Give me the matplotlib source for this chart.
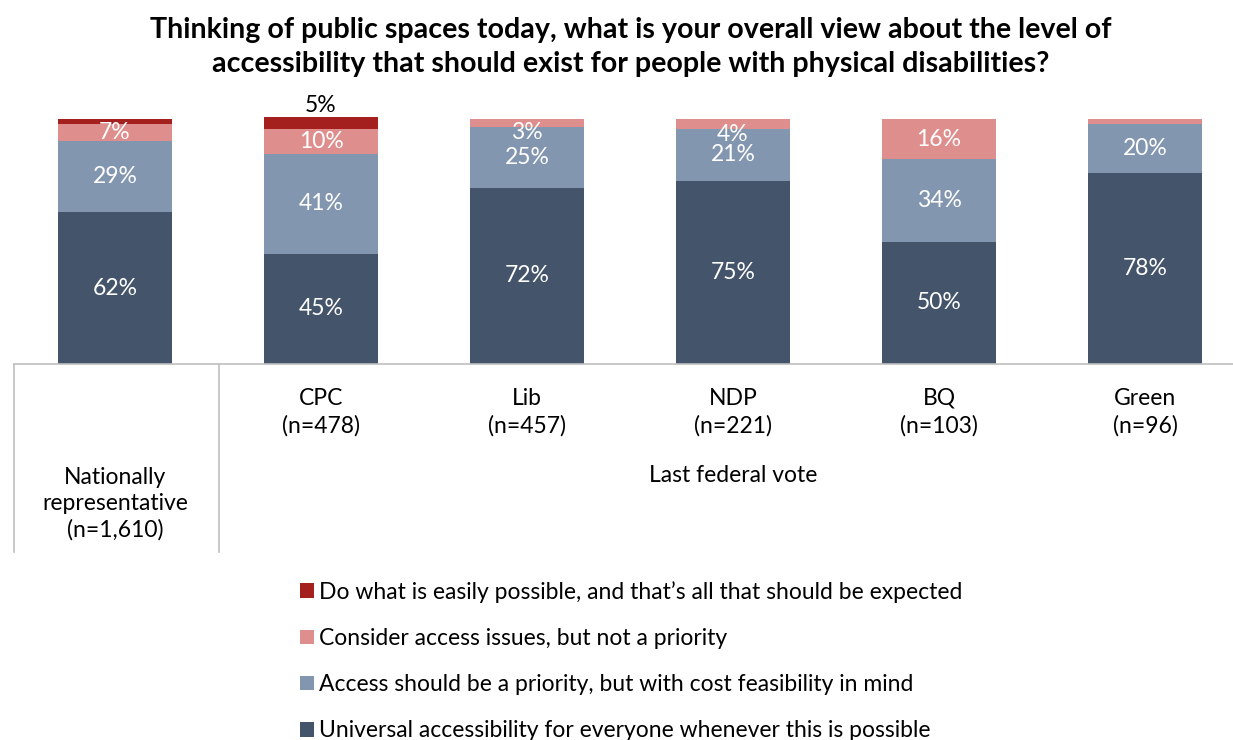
import matplotlib
matplotlib.use('Agg')
import matplotlib.pyplot as plt
from matplotlib.lines import Line2D
from matplotlib.patches import Patch
from matplotlib.transforms import blended_transform_factory

plt.rcParams['font.family'] = ['Lato', 'DejaVu Sans']

categories = ['Nationally\nrepresentative\n(n=1,610)', 'CPC\n(n=478)', 'Lib\n(n=457)',
              'NDP\n(n=221)', 'BQ\n(n=103)', 'Green\n(n=96)']
universal = [62, 45, 72, 75, 50, 78]
priority_cost = [29, 41, 25, 21, 34, 20]
not_priority = [7, 10, 3, 4, 16, 2]
easily_possible = [2, 5, 0, 0, 0, 0]

series_names = [
    'Do what is easily possible, and that\u2019s all that should be expected',
    'Consider access issues, but not a priority',
    'Access should be a priority, but with cost feasibility in mind',
    'Universal accessibility for everyone whenever this is possible',
]
colors = ['#A3201F', '#DE8F8D', '#8396B0', '#44546A']

W, H = 1233, 740
fs = 16.5
fig = plt.figure(figsize=(W / 100, H / 100), dpi=100)
# axes box in pixel terms: x 14..1233, y 117..364
ax = fig.add_axes([14 / W, 1 - 364 / H, (1233 - 14) / W, (364 - 117) / H])

spacing = 206
x = [0, 1, 2, 3, 4, 5]
width = 114 / spacing
ax.set_xlim((14 - 115) / spacing, (1233 - 115) / spacing)
ax.set_ylim(0, 101)

stack = [universal, priority_cost, not_priority]
bottoms = [0] * len(x)
for vals, col in zip(stack, colors[1:][::-1]):
    ax.bar(x, vals, width=width, bottom=bottoms, color=col, zorder=2)
    for i, v in enumerate(vals):
        if v >= 3:
            # small segments get their label nudged down under the bar top
            dy = -7 if v < 5 else 0
            ax.annotate(f'{v}%', (x[i], bottoms[i] + v / 2), xytext=(0, dy),
                        textcoords='offset points', ha='center', va='center',
                        color='white', fontsize=fs, zorder=3)
    bottoms = [b + v for b, v in zip(bottoms, vals)]

ax.bar(x, easily_possible, width=width, bottom=bottoms, color=colors[0], zorder=2)
# the CPC value sits above its bar
ax.annotate(f'{easily_possible[1]}%', (x[1], bottoms[1] + easily_possible[1]),
            xytext=(0, 1), textcoords='offset points', ha='center', va='bottom',
            color='black', fontsize=fs)

for s in ['top', 'right', 'left']:
    ax.spines[s].set_visible(False)
ax.spines['bottom'].set_color('#BFBFBF')
ax.spines['bottom'].set_linewidth(1.2)
ax.set_xticks([])
ax.set_yticks([])

# multi-level category labels
tr = blended_transform_factory(ax.transData, fig.transFigure)
for i in range(1, 6):
    ax.text(x[i], 1 - 388 / H, categories[i], transform=tr, ha='center', va='top',
            fontsize=fs, linespacing=1.35)
ax.text(x[0], 1 - 467 / H, categories[0], transform=tr, ha='center', va='top',
        fontsize=fs, linespacing=1.3)
ax.text((x[1] + x[5]) / 2, 1 - 476 / H, 'Last federal vote', transform=tr,
        ha='center', va='center', fontsize=fs)

for px in [14, 219]:
    fig.add_artist(Line2D([px / W, px / W], [1 - 364 / H, 1 - 552 / H],
                          color='#BFBFBF', linewidth=1.2))

fig.text(631 / W, 1 - 47 / H,
         'Thinking of public spaces today, what is your overall view about the level of\n'
         'accessibility that should exist for people with physical disabilities?',
         ha='center', va='center', fontsize=20.6, fontweight='bold', linespacing=1.42)

handles = [Patch(facecolor=c, edgecolor='none') for c in colors]
fig.legend(handles, series_names, loc='upper left', bbox_to_anchor=(300 / W, 1 - 581 / H),
           frameon=False, fontsize=fs, handlelength=0.6, handleheight=0.6,
           handletextpad=0.25, labelspacing=1.1, borderaxespad=0, borderpad=0)

plt.savefig('out.png', dpi=100)
plt.close(fig)
